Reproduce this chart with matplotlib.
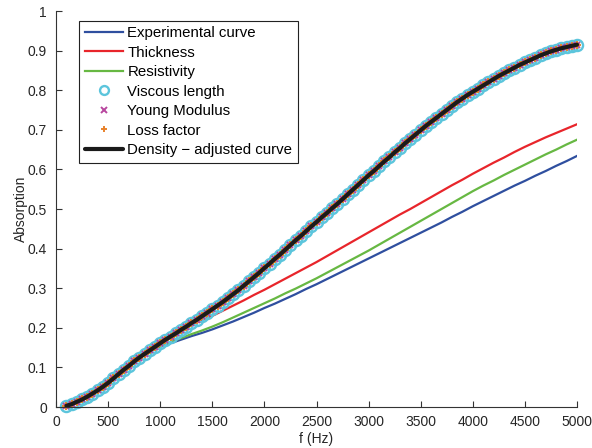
import numpy as np
import matplotlib
matplotlib.use("Agg")
import matplotlib.pyplot as plt

# ---------------- data ----------------
freq_fine = list(range(100, 5001, 50))
adjusted_curve = [
    0.003, 0.007, 0.013, 0.019, 0.026, 0.034, 0.042, 0.051, 0.061, 0.072,
    0.083, 0.094, 0.104, 0.115, 0.125, 0.134, 0.143, 0.152, 0.161, 0.170,
    0.178, 0.186, 0.195, 0.203, 0.212, 0.220, 0.229, 0.238, 0.247, 0.256,
    0.265, 0.275, 0.285, 0.295, 0.306, 0.317, 0.328, 0.339, 0.351, 0.362,
    0.374, 0.385, 0.397, 0.409, 0.421, 0.432, 0.444, 0.456, 0.467, 0.479,
    0.490, 0.502, 0.513, 0.525, 0.537, 0.549, 0.561, 0.573, 0.585, 0.596,
    0.608, 0.620, 0.631, 0.643, 0.654, 0.666, 0.677, 0.688, 0.699, 0.710,
    0.720, 0.730, 0.740, 0.750, 0.760, 0.770, 0.779, 0.788, 0.796, 0.804,
    0.812, 0.820, 0.828, 0.836, 0.843, 0.850, 0.857, 0.864, 0.870, 0.876,
    0.882, 0.888, 0.893, 0.898, 0.902, 0.906, 0.909, 0.912, 0.915,
]
viscous_length = adjusted_curve
young_modulus = adjusted_curve
loss_factor = adjusted_curve

freq = list(range(100, 5001, 100))
experimental = [
    0.003, 0.013, 0.026, 0.042, 0.061, 0.083, 0.104, 0.125, 0.142, 0.152,
    0.161, 0.170, 0.179, 0.187, 0.196, 0.206, 0.216, 0.227, 0.238, 0.250,
    0.261, 0.273, 0.285, 0.298, 0.310, 0.323, 0.336, 0.349, 0.362, 0.375,
    0.388, 0.401, 0.414, 0.427, 0.440, 0.453, 0.466, 0.480, 0.493, 0.507,
    0.520, 0.533, 0.546, 0.559, 0.571, 0.584, 0.596, 0.609, 0.621, 0.634,
]
thickness = [
    0.003, 0.013, 0.026, 0.042, 0.061, 0.083, 0.104, 0.125, 0.143, 0.161,
    0.178, 0.195, 0.209, 0.219, 0.230, 0.243, 0.256, 0.269, 0.283, 0.296,
    0.310, 0.324, 0.338, 0.352, 0.366, 0.381, 0.396, 0.411, 0.426, 0.441,
    0.456, 0.471, 0.486, 0.500, 0.515, 0.530, 0.545, 0.560, 0.574, 0.589,
    0.603, 0.617, 0.630, 0.644, 0.657, 0.669, 0.681, 0.692, 0.703, 0.714,
]
resistivity = [
    0.003, 0.013, 0.026, 0.042, 0.061, 0.083, 0.104, 0.125, 0.143, 0.154,
    0.164, 0.174, 0.184, 0.193, 0.203, 0.214, 0.226, 0.238, 0.250, 0.262,
    0.274, 0.287, 0.299, 0.312, 0.325, 0.339, 0.353, 0.367, 0.381, 0.395,
    0.410, 0.425, 0.440, 0.455, 0.470, 0.485, 0.500, 0.515, 0.530, 0.545,
    0.559, 0.572, 0.586, 0.599, 0.612, 0.625, 0.638, 0.650, 0.663, 0.675,
]

xticks = [0, 500, 1000, 1500, 2000, 2500, 3000, 3500, 4000, 4500, 5000]
xtick_labels = ["0", "500", "1000", "1500", "2000", "2500", "3000", "3500",
                "4000", "4500", "5000"]
yticks = [0, 0.1, 0.2, 0.3, 0.4, 0.5, 0.6, 0.7, 0.8, 0.9, 1.0]
ytick_labels = ["0", "0.1", "0.2", "0.3", "0.4", "0.5", "0.6", "0.7",
                "0.8", "0.9", "1"]

# ---------------- style ----------------
plt.rcParams['font.family'] = ['Liberation Sans', 'DejaVu Sans']
c_blue = '#2f4f9f'
c_red = '#e8252b'
c_green = '#67b843'
c_cyan = '#5cc5dc'
c_mag = '#b8479f'
c_orange = '#e8822c'
c_axis = '#333333'

fig = plt.figure(figsize=(5.92, 4.48), dpi=100)
ax = fig.add_axes([56 / 592, 41 / 448, 521 / 592, 396 / 448])

ax.plot(freq, experimental, color=c_blue, lw=1.6, label='Experimental curve')
ax.plot(freq, thickness, color=c_red, lw=1.6, label='Thickness')
ax.plot(freq, resistivity, color=c_green, lw=1.6, label='Resistivity')
ax.plot(freq_fine, viscous_length, ls='none', marker='o', ms=8.0,
        mfc='none', mec=c_cyan, mew=1.7, label='Viscous length', clip_on=False)
ax.plot(freq_fine, young_modulus, ls='none', marker='x', ms=5.0,
        mec=c_mag, mew=1.4, label='Young Modulus', clip_on=False)
ax.plot(freq_fine, loss_factor, ls='none', marker='+', ms=5.5,
        mec=c_orange, mew=1.4, label='Loss factor', clip_on=False)
ax.plot(freq_fine, adjusted_curve, color='#1a1a1a', lw=3.0,
        label='Density \u2212 adjusted curve', clip_on=False,
        solid_capstyle='round')

ax.set_xlim(0, 5000)
ax.set_ylim(0, 1)
ax.set_xticks(xticks)
ax.set_xticklabels(xtick_labels)
ax.set_yticks(yticks)
ax.set_yticklabels(ytick_labels)

for s in ['top', 'right']:
    ax.spines[s].set_visible(False)
for s in ['left', 'bottom']:
    ax.spines[s].set_color(c_axis)
    ax.spines[s].set_linewidth(0.8)
ax.tick_params(direction='in', length=4, width=0.8, color=c_axis,
               labelcolor='#262626', labelsize=10.0)
ax.tick_params(axis='y', pad=6.5)
ax.tick_params(axis='x', pad=6.0)

ax.set_xlabel('f (Hz)', fontsize=10.0, color='#262626', labelpad=2)
ax.set_ylabel('Absorption', fontsize=10.0, color='#262626', labelpad=0)

leg = ax.legend(loc='upper left', bbox_to_anchor=(0.0447, 0.9755),
                borderaxespad=0, fontsize=10.8, frameon=True, fancybox=False,
                framealpha=1, edgecolor='#222222', labelspacing=0.37,
                handlelength=2.55, handletextpad=0.3, borderpad=0.35,
                markerscale=0.8)
leg.get_frame().set_linewidth(0.8)

fig.savefig('out.png', dpi=100)
